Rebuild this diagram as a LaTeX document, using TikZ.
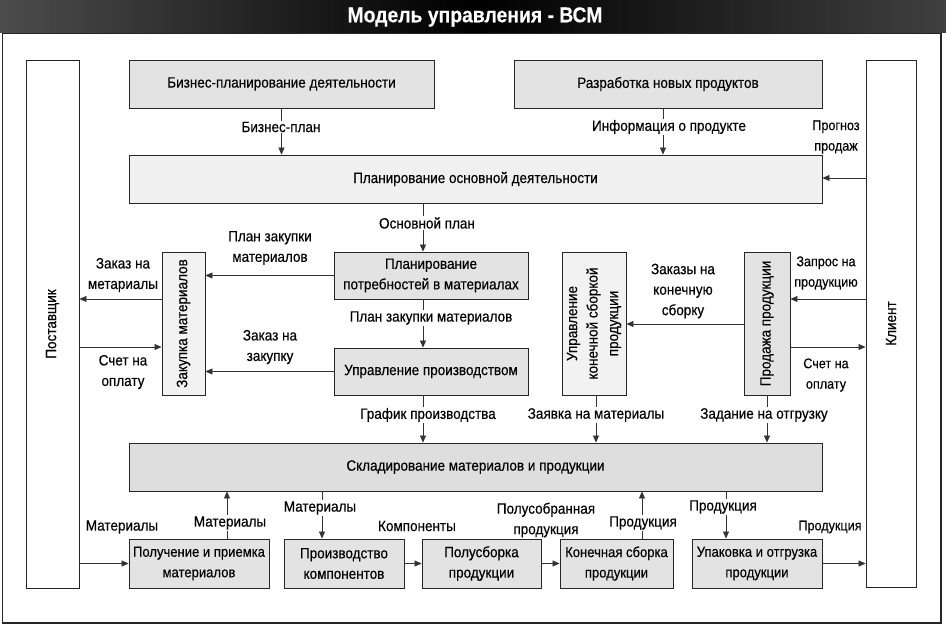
\documentclass[tikz,border=0pt]{standalone}
\usepackage{fontspec}
\setmainfont{Liberation Sans}[FakeStretch=0.9,FakeBold=0.3]
\usetikzlibrary{arrows.meta}
\begin{document}
\begin{tikzpicture}[x=1pt,y=-1pt,
  font=\fontsize{15}{20.5}\selectfont,
  box/.style={draw=black!85,line width=0.9pt,fill=black!11,inner sep=0pt,align=center},
  wbox/.style={box,fill=white},
  arr/.style={draw=black!80,line width=0.7pt,-{Triangle[length=7pt,width=6pt]}},
  lbl/.style={align=center,inner sep=1pt},
  onl/.style={lbl,fill=white},
  sml/.style={lbl,font=\fontsize{14}{20.5}\selectfont}]
\useasboundingbox (0,0) rectangle (946,626);
% title bar and frame
\shade[left color=black!70,right color=black!75,middle color=black] (0,0) rectangle (946,33);
\node[text=white,font=\bfseries\fontsize{21.5}{23}\selectfont] (title) at (475,17) {Модель управления - ВСМ};
\draw[line width=0.9pt,black!85] (2,33) rectangle (941,623);
\draw[line width=2pt,black!85] (2,623) -- (941,623) -- (941,33);
% boxes
\node[wbox,minimum width=53pt,minimum height=528pt] (post) at (52.5,324) {};
\node[rotate=90] at (post) {Поставщик};
\node[wbox,minimum width=50pt,minimum height=527pt] (klient) at (891,323.5) {};
\node[rotate=90] at (klient) {Клиент};
\node[box,minimum width=305pt,minimum height=48pt] (biz) at (281.5,84) {Бизнес-планирование деятельности};
\node[box,minimum width=308pt,minimum height=48pt] (razr) at (668,84) {Разработка новых продуктов};
\node[box,fill=black!6,minimum width=693pt,minimum height=48pt] (plan) at (475.5,179) {Планирование основной деятельности};
\node[box,minimum width=194pt,minimum height=47pt] (mrp) at (431,275.5) {Планирование\\потребностей в материалах};
\node[box,minimum width=194pt,minimum height=47pt] (upr) at (431,371.5) {Управление производством};
\node[box,fill=black!5,minimum width=43pt,minimum height=143pt] (zak) at (183.5,323.5) {};
\node[rotate=90] at (zak) {Закупка материалов};
\node[box,fill=black!5,minimum width=64pt,minimum height=143pt] (kon) at (594,323.5) {};
\node[rotate=90,align=center] at (kon) {Управление\\конечной сборкой\\продукции};
\node[box,minimum width=46pt,minimum height=143pt] (prod) at (767,323.5) {};
\node[rotate=90] at (prod) {Продажа продукции};
\node[box,fill=black!13,minimum width=693pt,minimum height=48pt] (sklad) at (475.5,467) {Складирование материалов и продукции};
\node[box,minimum width=140pt,minimum height=49pt,font=\fontsize{14.5}{20.5}\selectfont] (pol) at (199,563.5) {Получение и приемка\\материалов};
\node[box,minimum width=120pt,minimum height=49pt] (proizv) at (344,563.5) {Производство\\компонентов};
\node[box,minimum width=119pt,minimum height=49pt] (polus) at (481.5,563.5) {Полусборка\\продукции};
\node[box,minimum width=113pt,minimum height=49pt,font=\fontsize{14.5}{20.5}\selectfont] (konsb) at (616.5,563.5) {Конечная сборка\\продукции};
\node[box,minimum width=130pt,minimum height=49pt,font=\fontsize{14.5}{20.5}\selectfont] (upak) at (757,563.5) {Упаковка и отгрузка\\продукции};
% connectors
\draw[arr] (biz.south) -- (biz.south |- plan.north);
\draw[arr] (razr.south -| 663,0) -- (plan.north -| 663,0);
\draw[arr] (klient.west |- 0,178) -- (plan.east |- 0,178);
\draw[arr] (plan.south -| 423,0) -- (mrp.north -| 423,0);
\draw[arr] (mrp.south -| 423,0) -- (upr.north -| 423,0);
\draw[arr] (upr.south -| 423,0) -- (sklad.north -| 423,0);
\draw[arr] (mrp.west) -- (zak.east |- mrp.west);
\draw[arr] (upr.west) -- (zak.east |- upr.west);
\draw[arr] (zak.west |- 0,299) -- (post.east |- 0,299);
\draw[arr] (post.east |- 0,347) -- (zak.west |- 0,347);
\draw[arr] (prod.west |- 0,324) -- (kon.east |- 0,324);
\draw[arr] (klient.west |- 0,299) -- (prod.east |- 0,299);
\draw[arr] (prod.east |- 0,347) -- (klient.west |- 0,347);
\draw[arr] (kon.south -| 596,0) -- (sklad.north -| 596,0);
\draw[arr] (prod.south) -- (prod.south |- sklad.north);
\draw[arr] (post.east |- pol.west) -- (pol.west);
\draw[arr] (pol.north -| 227,0) -- (sklad.south -| 227,0);
\draw[arr] (sklad.south -| 322,0) -- (proizv.north -| 322,0);
\draw[arr] (proizv.east) -- (polus.west);
\draw[arr] (polus.east) -- (konsb.west);
\draw[arr] (konsb.north -| 642,0) -- (sklad.south -| 642,0);
\draw[arr] (sklad.south -| 726,0) -- (upak.north -| 726,0);
\draw[arr] (upak.east) -- (klient.west |- upak.east);
% labels
\node[onl] (l1) at (281,127) {Бизнес-план};
\node[onl] (l2) at (669,127) {Информация о продукте};
\node[sml] (l3) at (836,137) {Прогноз\\продаж};
\node[onl] (l4) at (427,223) {Основной план};
\node[onl] (l5) at (431,318) {План закупки материалов};
\node[onl] (l6) at (428,415) {График производства};
\node[onl] (l7) at (596,415) {Заявка на материалы};
\node[onl] (l8) at (764,415) {Задание на отгрузку};
\node[lbl] (l9) at (270,248) {План закупки\\материалов};
\node[lbl] (l10) at (270,347) {Заказ на\\закупку};
\node[lbl] (l11) at (123,275) {Заказ на\\метариалы};
\node[lbl] (l12) at (123,372) {Счет на\\оплату};
\node[lbl] (l13) at (683,291) {Заказы на\\конечную\\сборку};
\node[sml] (l14) at (826,273) {Запрос на\\продукцию};
\node[sml] (l15) at (826,375) {Счет на\\оплату};
\node[lbl] (l16) at (122,527) {Материалы};
\node[onl] (l17) at (230,523) {Материалы};
\node[onl] (l18) at (320,508) {Материалы};
\node[lbl] (l19) at (417,526) {Компоненты};
\node[lbl] (l20) at (546,520) {Полусобранная\\продукция};
\node[onl] (l21) at (643,523) {Продукция};
\node[onl] (l22) at (723,507) {Продукция};
\node[sml] (l23) at (830,527) {Продукция};
\end{tikzpicture}
\end{document}
